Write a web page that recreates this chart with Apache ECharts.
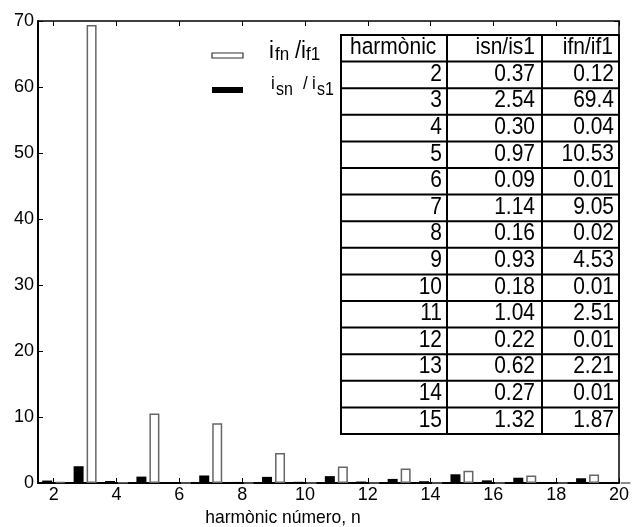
<!DOCTYPE html>
<html>
<head>
<meta charset="utf-8">
<script src="https://cdn.jsdelivr.net/npm/echarts@6/dist/echarts.min.js"></script>
<style>
  html, body { margin: 0; padding: 0; background: #fff; }
  #chart { width: 632px; height: 527px; }
</style>
</head>
<body>
<div id="chart"></div>
<script>
// Harmonic orders
const harmonics = [2, 3, 4, 5, 6, 7, 8, 9, 10, 11, 12, 13, 14, 15, 16, 17, 18, 19, 20];
// Stator current harmonics relative to fundamental (isn/is1)
const isRatio = [0.37, 2.54, 0.30, 0.97, 0.09, 1.14, 0.16, 0.93, 0.18, 1.04, 0.22, 0.62, 0.27, 1.32, 0.40, 0.80, 0.12, 0.72, 0.12];
// Field current harmonics relative to fundamental (ifn/if1)
const ifRatio = [0.12, 69.4, 0.04, 10.53, 0.01, 9.05, 0.02, 4.53, 0.01, 2.51, 0.01, 2.21, 0.01, 1.87, 0.02, 1.12, 0.03, 1.28, 0.02];
// Rows listed in the table (harmonics 2..15)
const tableRows = 14;
// Axis tick labels
const xTicks = [2, 4, 6, 8, 10, 12, 14, 16, 18, 20];
const yTicks = [0, 10, 20, 30, 40, 50, 60, 70];

const FONT = '"Liberation Sans", Arial, sans-serif';

const chart = echarts.init(document.getElementById('chart'), null, { renderer: 'canvas' });

// ---- table drawn as graphic elements ----
const colX = [341, 447, 542, 619];
const rowTop = 35, rowH = 26.6;
const nRows = tableRows + 1;
const tableEls = [];
tableEls.push({
  type: 'rect', z: 10,
  shape: { x: colX[0], y: rowTop, width: colX[3] - colX[0], height: nRows * rowH },
  style: { fill: '#fff', stroke: '#000', lineWidth: 2 }
});
for (let r = 1; r < nRows; r++) {
  const y = rowTop + r * rowH;
  tableEls.push({ type: 'line', z: 11, shape: { x1: colX[0], y1: y, x2: colX[3], y2: y }, style: { stroke: '#000', lineWidth: 2 } });
}
for (let c = 1; c < 3; c++) {
  tableEls.push({ type: 'line', z: 11, shape: { x1: colX[c], y1: rowTop, x2: colX[c], y2: rowTop + nRows * rowH }, style: { stroke: '#000', lineWidth: 2 } });
}
// cell text, slightly stretched vertically like the printed table
function cellText(txt, x, r, align) {
  return {
    type: 'text', z: 12,
    x: x, y: rowTop + r * rowH + rowH / 2 - 0.5,
    scaleY: 1.1,
    style: {
      text: txt, x: 0, y: 0,
      align: align, verticalAlign: 'middle',
      font: '21px ' + FONT, fill: '#000'
    }
  };
}
tableEls.push(cellText('harmònic', colX[0] + 9, 0, 'left'));
tableEls.push(cellText('isn/is1', colX[2] - 7, 0, 'right'));
tableEls.push(cellText('ifn/if1', colX[3] - 6, 0, 'right'));
for (let i = 0; i < tableRows; i++) {
  tableEls.push(cellText(String(harmonics[i]), colX[1] - 5, i + 1, 'right'));
  tableEls.push(cellText(isRatio[i].toFixed(2), colX[2] - 7, i + 1, 'right'));
  tableEls.push(cellText(String(ifRatio[i]), colX[3] - 5, i + 1, 'right'));
}

// ---- legend drawn as graphic elements ----
function t(txt, x, yc, size) {
  return { type: 'text', z: 12, x: x, y: yc, scaleY: 1.1,
    style: { text: txt, x: 0, y: 0, align: 'left', verticalAlign: 'middle', font: size + 'px ' + FONT, fill: '#000' } };
}
const legendEls = [
  { type: 'rect', z: 12, shape: { x: 212, y: 53, width: 31, height: 5 }, style: { fill: '#fff', stroke: '#333', lineWidth: 1.2 } },
  { type: 'rect', z: 12, shape: { x: 212, y: 87, width: 31, height: 6 }, style: { fill: '#000' } },
  t('i', 269, 51, 22), t('fn', 275, 55, 17), t('/', 295, 51, 22), t('i', 301, 51, 22), t('f1', 306, 55, 17),
  t('i', 271, 84, 17), t('sn', 276, 90, 16), t('/', 303, 84, 17), t('i', 312, 84, 17), t('s1', 317, 90, 16),
  { type: 'text', z: 12, x: 283, y: 518, scaleY: 1.05,
    style: { text: 'harmònic número, n', x: 0, y: 0, align: 'center', verticalAlign: 'middle', font: '17.5px ' + FONT, fill: '#000' } }
];

const option = {
  backgroundColor: '#fff',
  animation: false,
  grid: { left: 38, right: 10, top: 21, bottom: 44, containLabel: false },
  textStyle: { fontFamily: FONT },
  xAxis: [
    {
      type: 'value', min: 1.5, max: 20, position: 'bottom',
      axisLine: { show: true, onZero: false, lineStyle: { color: '#000', width: 2 } },
      axisTick: { show: true, inside: true, length: 5, customValues: xTicks, lineStyle: { color: '#000', width: 1 } },
      axisLabel: { show: true, customValues: xTicks, margin: 3, fontSize: 18, fontFamily: FONT, color: '#000' },
      splitLine: { show: false }
    },
    {
      type: 'value', min: 1.5, max: 20, position: 'top',
      axisLine: { show: true, onZero: false, lineStyle: { color: '#000', width: 1.5 } },
      axisTick: { show: true, inside: true, length: 5, customValues: xTicks, lineStyle: { color: '#000', width: 1 } },
      axisLabel: { show: false },
      splitLine: { show: false }
    }
  ],
  yAxis: [
    {
      type: 'value', min: 0, max: 70, interval: 10, position: 'left',
      axisLine: { show: true, onZero: false, lineStyle: { color: '#000', width: 2 } },
      axisTick: { show: true, inside: true, length: 5, lineStyle: { color: '#000', width: 1 } },
      axisLabel: { show: true, margin: 4, fontSize: 18, fontFamily: FONT, color: '#000',
        customValues: yTicks },
      splitLine: { show: false }
    },
    {
      type: 'value', min: 0, max: 70, interval: 10, position: 'right',
      axisLine: { show: true, onZero: false, lineStyle: { color: '#000', width: 1.5 } },
      axisTick: { show: true, inside: true, length: 5, lineStyle: { color: '#000', width: 1 } },
      axisLabel: { show: false },
      splitLine: { show: false }
    }
  ],
  series: [
    {
      name: 'isn/is1', type: 'bar', xAxisIndex: 0, yAxisIndex: 0,
      barWidth: 10, barGap: '30%',
      data: harmonics.map((n, i) => [n, isRatio[i]]),
      itemStyle: { color: '#000' },
      clip: true
    },
    {
      name: 'ifn/if1', type: 'bar', xAxisIndex: 0, yAxisIndex: 0,
      barWidth: 10, barGap: '30%',
      data: harmonics.map((n, i) => [n, ifRatio[i]]),
      itemStyle: { color: '#fff', borderColor: '#666', borderWidth: 1.5 },
      clip: true
    }
  ],
  graphic: tableEls.concat(legendEls)
};

chart.setOption(option);
</script>
</body>
</html>
